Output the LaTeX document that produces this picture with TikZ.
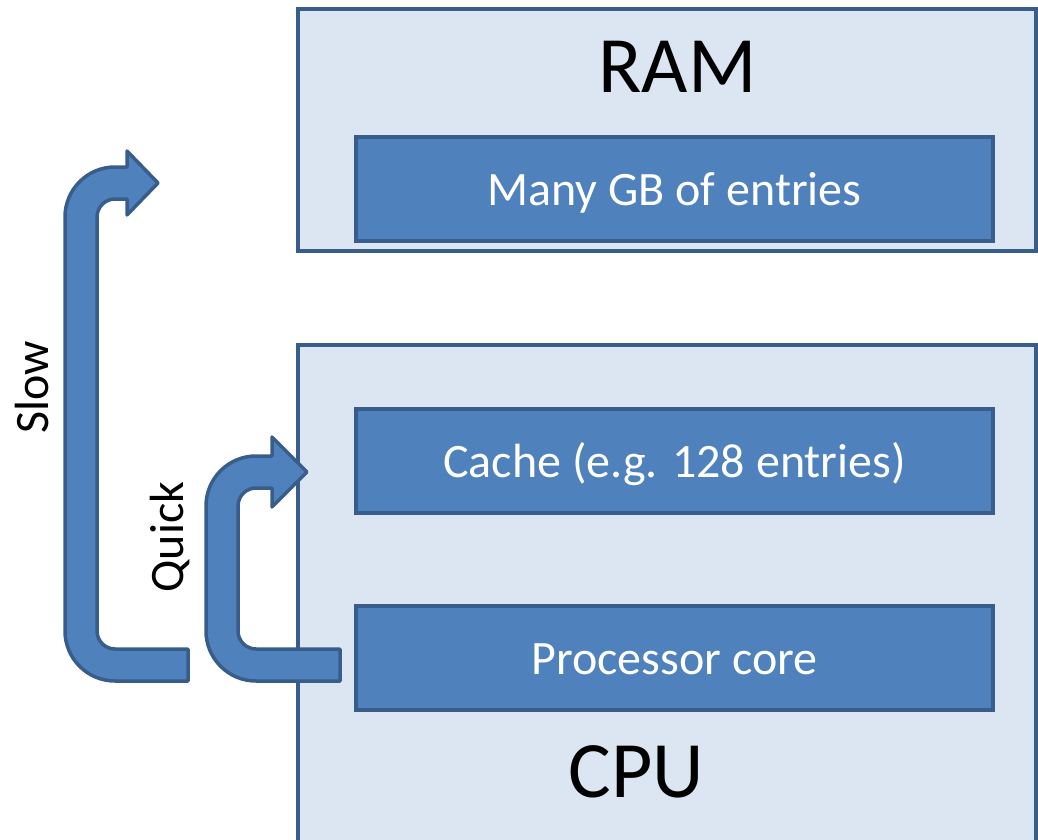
\documentclass[tikz,border=0pt]{standalone}
\usepackage{fontspec}
\setmainfont{Carlito}
\definecolor{lightfill}{HTML}{DCE6F2}
\definecolor{midfill}{HTML}{4F81BD}
\definecolor{edgeblue}{HTML}{385D8A}
\begin{document}
\begin{tikzpicture}[x=1pt,y=-1pt,
  outerbox/.style={draw=edgeblue, fill=lightfill, line width=4pt, inner sep=0pt, rectangle},
  innerbox/.style={draw=edgeblue, fill=midfill, line width=4pt, inner sep=0pt, rectangle,
     text=white, font=\fontsize{48}{56}\selectfont, text height=68pt, text depth=36pt, minimum width=637pt},
  bigtitle/.style={font=\fontsize{80}{96}\selectfont, inner sep=0pt, anchor=base},
  sidelabel/.style={font=\fontsize{48}{56}\selectfont, inner sep=0pt, anchor=base, rotate=90},
  bentarrow/.style={draw=edgeblue, fill=midfill, line width=3.5pt, line join=round}]
\useasboundingbox (0,0) rectangle (1038,840);
\clip (0,0) rectangle (1038,840);
% outer boxes
\node[outerbox, minimum width=738pt, minimum height=242pt] (ram) at (667,130) {};
\node[outerbox, minimum width=738pt, minimum height=555pt] (cpu) at (667,622.5) {};
% titles
\node[bigtitle] (ramlabel) at (677.5,93) {RAM};
\node[bigtitle] (cpulabel) at (636.5,797) {CPU};
% inner boxes
\node[innerbox] (mem) at (674.5,189) {Many GB of entries};
\node[innerbox] (cache) at (674.5,461) {Cache (e.g. 128 entries)};
\node[innerbox] (core) at (674.5,658) {Processor core};
% slow arrow
\draw[bentarrow] (188,649) -- (115,649) .. controls (105.1,649) and (97,640.9) .. (97,631)
  -- (97,217) .. controls (97,207.1) and (105.1,199) .. (115,199) -- (127,199) -- (127,215)
  -- (158,183) -- (127,151) -- (127,167) -- (115,167)
  .. controls (87.4,167) and (65,189.4) .. (65,217) -- (65,631)
  .. controls (65,658.6) and (87.4,681) .. (115,681) -- (188,681) -- cycle;
% quick arrow
\draw[bentarrow] (340,649) -- (256,649) .. controls (246.1,649) and (238,640.9) .. (238,631)
  -- (238,506) .. controls (238,496.1) and (246.1,488) .. (256,488) -- (272,488) -- (272,507)
  -- (307,472) -- (272,437) -- (272,456) -- (256,456)
  .. controls (228.4,456) and (206,478.4) .. (206,506) -- (206,631)
  .. controls (206,658.6) and (228.4,681) .. (256,681) -- (340,681) -- cycle;
% labels
\node[sidelabel] (slow) at (48,387) {Slow};
\node[sidelabel] (quick) at (183,537) {Quick};
\end{tikzpicture}
\end{document}
